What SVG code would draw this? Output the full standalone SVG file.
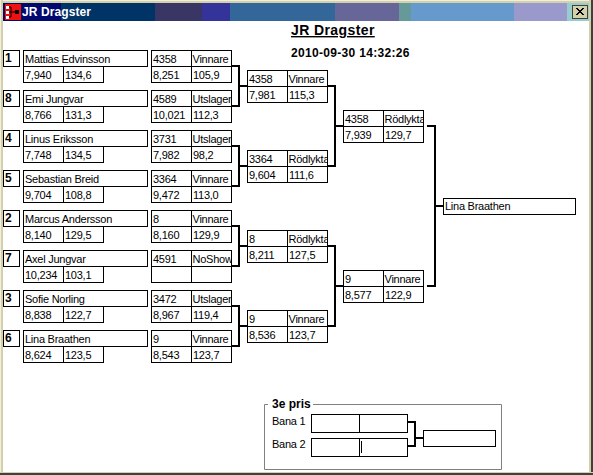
<svg xmlns="http://www.w3.org/2000/svg" width="593" height="475" viewBox="0 0 593 475">
<style>
text{font-family:"Liberation Sans",Arial,sans-serif;font-size:11px;letter-spacing:-0.25px;fill:#000}
.b{font-weight:bold;font-size:12px;letter-spacing:0}
.box{fill:#fff;stroke:#000;stroke-width:1}
.c{fill:none;stroke:#000;stroke-width:2}
.r{clip-path:url(#clipR)}
</style>
<defs>
<g id="cell2"><rect class="box" x="0" y="0" width="40" height="16"/><rect class="box" x="40" y="0" width="40" height="16"/></g>
<clipPath id="clipR"><rect x="40" y="0" width="39.500" height="16"/></clipPath>
</defs>
<rect width="593" height="475" fill="#fff"/>
<rect x="0" y="0" width="593" height="3" fill="#d4d0a8"/>
<rect x="0" y="0" width="593" height="1" fill="#f0eee0"/>
<rect x="0" y="0" width="3" height="475" fill="#d4d0a8"/>
<rect x="0" y="0" width="1" height="475" fill="#f0eee0"/>
<rect x="589" y="0" width="2" height="475" fill="#d4d0a8"/>
<rect x="591" y="0" width="2" height="475" fill="#404040"/>
<rect x="0" y="472" width="593" height="1" fill="#d4d0a8"/>
<rect x="0" y="473" width="593" height="2" fill="#404040"/>
<g id="titlebar">
<rect x="3" y="3" width="58" height="18" fill="#000a6e"/>
<rect x="61" y="3" width="94" height="18" fill="#003366"/>
<rect x="155" y="3" width="47" height="18" fill="#393666"/>
<rect x="202" y="3" width="28" height="18" fill="#333399"/>
<rect x="230" y="3" width="105" height="18" fill="#336699"/>
<rect x="335" y="3" width="64" height="18" fill="#666699"/>
<rect x="399" y="3" width="12" height="18" fill="#669999"/>
<rect x="411" y="3" width="103" height="18" fill="#6699cc"/>
<rect x="514" y="3" width="53" height="18" fill="#9999cc"/>
<rect x="567" y="3" width="22" height="18" fill="#99cccc"/>
<rect x="5" y="4" width="16" height="16" fill="#f01010"/>
<path d="M6 7h5v5h-5M6 17h5v-5M11 12h4" fill="none" stroke="#000"/>
<rect x="15" y="10" width="4" height="4" fill="#000"/>
<rect x="6" y="6" width="3" height="3" fill="#fff"/>
<rect x="6" y="11" width="3" height="3" fill="#fff"/>
<rect x="6" y="16" width="3" height="3" fill="#fff"/>
<text class="b" x="22" y="16" style="fill:#fff;letter-spacing:.1px">JR Dragster</text>
<rect x="572.500" y="5.500" width="15" height="13" fill="#d4d0a8" stroke="#404040"/>
<path d="M576 8l7 7M577 8l7 7M583 8l-7 7M584 8l-7 7" stroke="#000" fill="none"/>
</g>
<text id="title" class="b" x="291" y="35" style="font-size:14px;letter-spacing:.4px;text-decoration:underline">JR Dragster</text>
<text id="date" class="b" x="291" y="57" style="letter-spacing:.32px">2010-09-30 14:32:26</text>
<g id="connectors">
<path class="c" d="M232 66H239V106H232M239 86H247"/>
<path class="c" d="M232 146H239V186H232M239 166H247"/>
<path class="c" d="M232 226H239V266H232M239 246H247"/>
<path class="c" d="M232 306H239V346H232M239 326H247"/>
<path class="c" d="M328 86H335V166H328M335 126H343"/>
<path class="c" d="M328 246H335V326H328M335 286H343"/>
<path class="c" d="M427 126H435V286H427M435 206H443"/>
<path class="c" d="M408 422H415V446H408M415 438H423"/>
</g>
<g id="seeds">
<g id="s1"><rect class="box" x="3.500" y="50.500" width="16" height="16"/><text class="b" x="5" y="62">1</text></g>
<g id="s8"><rect class="box" x="3.500" y="90.500" width="16" height="16"/><text class="b" x="5" y="102">8</text></g>
<g id="s4"><rect class="box" x="3.500" y="130.500" width="16" height="16"/><text class="b" x="5" y="142">4</text></g>
<g id="s5"><rect class="box" x="3.500" y="170.500" width="16" height="16"/><text class="b" x="5" y="182">5</text></g>
<g id="s2"><rect class="box" x="3.500" y="210.500" width="16" height="16"/><text class="b" x="5" y="222">2</text></g>
<g id="s7"><rect class="box" x="3.500" y="250.500" width="16" height="16"/><text class="b" x="5" y="262">7</text></g>
<g id="s3"><rect class="box" x="3.500" y="290.500" width="16" height="16"/><text class="b" x="5" y="302">3</text></g>
<g id="s6"><rect class="box" x="3.500" y="330.500" width="16" height="16"/><text class="b" x="5" y="342">6</text></g>
</g>
<g id="drivers">
<g id="d1" transform="translate(23.500 50.500)"><rect class="box" width="124" height="16"/><use href="#cell2" y="16"/><text x="1.500" y="12">Mattias Edvinsson</text><text x="1.500" y="28">7,940</text><text x="41.500" y="28">134,6</text></g>
<g id="d8" transform="translate(23.500 90.500)"><rect class="box" width="124" height="16"/><use href="#cell2" y="16"/><text x="1.500" y="12">Emi Jungvar</text><text x="1.500" y="28">8,766</text><text x="41.500" y="28">131,3</text></g>
<g id="d4" transform="translate(23.500 130.500)"><rect class="box" width="124" height="16"/><use href="#cell2" y="16"/><text x="1.500" y="12">Linus Eriksson</text><text x="1.500" y="28">7,748</text><text x="41.500" y="28">134,5</text></g>
<g id="d5" transform="translate(23.500 170.500)"><rect class="box" width="124" height="16"/><use href="#cell2" y="16"/><text x="1.500" y="12">Sebastian Breid</text><text x="1.500" y="28">9,704</text><text x="41.500" y="28">108,8</text></g>
<g id="d2" transform="translate(23.500 210.500)"><rect class="box" width="124" height="16"/><use href="#cell2" y="16"/><text x="1.500" y="12">Marcus Andersson</text><text x="1.500" y="28">8,140</text><text x="41.500" y="28">129,5</text></g>
<g id="d7" transform="translate(23.500 250.500)"><rect class="box" width="124" height="16"/><use href="#cell2" y="16"/><text x="1.500" y="12">Axel Jungvar</text><text x="1.500" y="28">10,234</text><text x="41.500" y="28">103,1</text></g>
<g id="d3" transform="translate(23.500 290.500)"><rect class="box" width="124" height="16"/><use href="#cell2" y="16"/><text x="1.500" y="12">Sofie Norling</text><text x="1.500" y="28">8,838</text><text x="41.500" y="28">122,7</text></g>
<g id="d6" transform="translate(23.500 330.500)"><rect class="box" width="124" height="16"/><use href="#cell2" y="16"/><text x="1.500" y="12">Lina Braathen</text><text x="1.500" y="28">8,624</text><text x="41.500" y="28">123,5</text></g>
</g>
<g id="round1">
<g id="r1a" transform="translate(151.500 50.500)"><use href="#cell2"/><use href="#cell2" y="16"/><text x="1.500" y="12">4358</text><text class="r" x="41" y="12">Vinnare</text><text x="1.500" y="28">8,251</text><text x="41.500" y="28">105,9</text></g>
<g id="r1b" transform="translate(151.500 90.500)"><use href="#cell2"/><use href="#cell2" y="16"/><text x="1.500" y="12">4589</text><text class="r" x="41" y="12">Utslagen</text><text x="1.500" y="28">10,021</text><text x="41.500" y="28">112,3</text></g>
<g id="r1c" transform="translate(151.500 130.500)"><use href="#cell2"/><use href="#cell2" y="16"/><text x="1.500" y="12">3731</text><text class="r" x="41" y="12">Utslagen</text><text x="1.500" y="28">7,982</text><text x="41.500" y="28">98,2</text></g>
<g id="r1d" transform="translate(151.500 170.500)"><use href="#cell2"/><use href="#cell2" y="16"/><text x="1.500" y="12">3364</text><text class="r" x="41" y="12">Vinnare</text><text x="1.500" y="28">9,472</text><text x="41.500" y="28">113,0</text></g>
<g id="r1e" transform="translate(151.500 210.500)"><use href="#cell2"/><use href="#cell2" y="16"/><text x="1.500" y="12">8</text><text class="r" x="41" y="12">Vinnare</text><text x="1.500" y="28">8,160</text><text x="41.500" y="28">129,9</text></g>
<g id="r1f" transform="translate(151.500 250.500)"><use href="#cell2"/><use href="#cell2" y="16"/><text x="1.500" y="12">4591</text><text class="r" x="41" y="12">NoShow</text></g>
<g id="r1g" transform="translate(151.500 290.500)"><use href="#cell2"/><use href="#cell2" y="16"/><text x="1.500" y="12">3472</text><text class="r" x="41" y="12">Utslagen</text><text x="1.500" y="28">8,967</text><text x="41.500" y="28">119,4</text></g>
<g id="r1h" transform="translate(151.500 330.500)"><use href="#cell2"/><use href="#cell2" y="16"/><text x="1.500" y="12">9</text><text class="r" x="41" y="12">Vinnare</text><text x="1.500" y="28">8,543</text><text x="41.500" y="28">123,7</text></g>
</g>
<g id="round2">
<g id="r2a" transform="translate(247.500 70.500)"><use href="#cell2"/><use href="#cell2" y="16"/><text x="1.500" y="12">4358</text><text class="r" x="41" y="12">Vinnare</text><text x="1.500" y="28">7,981</text><text x="41.500" y="28">115,3</text></g>
<g id="r2b" transform="translate(247.500 150.500)"><use href="#cell2"/><use href="#cell2" y="16"/><text x="1.500" y="12">3364</text><text class="r" x="41" y="12">Rödlykta</text><text x="1.500" y="28">9,604</text><text x="41.500" y="28">111,6</text></g>
<g id="r2c" transform="translate(247.500 230.500)"><use href="#cell2"/><use href="#cell2" y="16"/><text x="1.500" y="12">8</text><text class="r" x="41" y="12">Rödlykta</text><text x="1.500" y="28">8,211</text><text x="41.500" y="28">127,5</text></g>
<g id="r2d" transform="translate(247.500 310.500)"><use href="#cell2"/><use href="#cell2" y="16"/><text x="1.500" y="12">9</text><text class="r" x="41" y="12">Vinnare</text><text x="1.500" y="28">8,536</text><text x="41.500" y="28">123,7</text></g>
</g>
<g id="round3">
<g id="r3a" transform="translate(343.500 110.500)"><use href="#cell2"/><use href="#cell2" y="16"/><text x="1.500" y="12">4358</text><text class="r" x="41" y="12">Rödlykta</text><text x="1.500" y="28">7,939</text><text x="41.500" y="28">129,7</text></g>
<g id="r3b" transform="translate(343.500 270.500)"><use href="#cell2"/><use href="#cell2" y="16"/><text x="1.500" y="12">9</text><text class="r" x="41" y="12">Vinnare</text><text x="1.500" y="28">8,577</text><text x="41.500" y="28">122,9</text></g>
</g>
<g id="winner"><rect class="box" x="443.500" y="198.500" width="132" height="16"/><text x="445" y="210">Lina Braathen</text></g>
<g id="third">
<path d="M268 404.500H264.500V469.500H501.500V404.500H313" fill="none" stroke="#808080"/>
<text class="b" x="272" y="408">3e pris</text>
<text x="272" y="425">Bana 1</text>
<text x="272" y="448">Bana 2</text>
<rect class="box" x="311.500" y="414.500" width="96" height="18"/><line x1="359.500" y1="414" x2="359.500" y2="433" stroke="#000"/>
<rect class="box" x="311.500" y="438.500" width="96" height="18"/><line x1="359.500" y1="438" x2="359.500" y2="457" stroke="#000"/>
<line x1="361.500" y1="441" x2="361.500" y2="453" stroke="#000"/>
<rect class="box" x="423.500" y="430.500" width="72" height="16"/>
</g>
</svg>
